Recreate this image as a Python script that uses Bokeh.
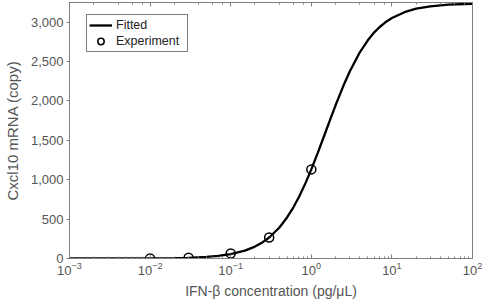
from bokeh.plotting import figure
from bokeh.models import (Range1d, NumeralTickFormatter, LogAxis, CustomJSTickFormatter,
                          FixedTicker, Legend, LegendItem, ColumnDataSource)
from bokeh.embed import file_html
from bokeh.resources import INLINE

# Fitted curve
fit_x = [0.001, 0.003, 0.01, 0.02, 0.03, 0.05, 0.07, 0.1, 0.15, 0.2, 0.25, 0.3,
         0.4, 0.5, 0.6, 0.7, 0.85, 1.0, 1.2, 1.5, 1.75, 2.0, 2.5, 3.0, 4.0, 5.0,
         6.0, 7.0, 8.5, 10.0, 15.0, 20.0, 30.0, 50.0, 100.0]
fit_y = [0, 0.3, 2, 5, 9, 20, 33, 56, 100, 151, 207, 267,
         391, 521, 650, 777, 960, 1131, 1337, 1603, 1788, 1945, 2192, 2375, 2618, 2767,
         2868, 2936, 3006, 3054, 3135, 3171, 3202, 3222, 3234]

# Experimental points
exp_x = [0.01, 0.03, 0.1, 0.3, 1.0]
exp_y = [0, 10, 64, 267, 1131]

y_ticks = [0, 500, 1000, 1500, 2000, 2500, 3000]
x_title = "IFN-β concentration (pg/μL)"
y_title = "Cxcl10 mRNA (copy)"

FONT = "Liberation Sans"
GRAY = "#808080"
TXT = "#555555"

p = figure(width=484, height=307, x_axis_type="log",
           x_range=Range1d(1e-3, 1e2), y_range=Range1d(0, 3250),
           output_backend="svg", toolbar_location=None,
           min_border_left=66, min_border_right=12, min_border_top=2,
           min_border_bottom=49)
p.background_fill_color = "white"
p.border_fill_color = "white"
p.outline_line_color = GRAY
p.outline_line_width = 1
p.grid.visible = False

src_fit = ColumnDataSource(dict(x=fit_x, y=fit_y))
src_exp = ColumnDataSource(dict(x=exp_x, y=exp_y))
r_fit = p.line("x", "y", source=src_fit, line_color="black", line_width=2.3)
r_exp = p.scatter("x", "y", source=src_exp, size=9, marker="circle",
                  fill_color=None, line_color="black", line_width=1.5)

xa = p.xaxis[0]
ya = p.yaxis[0]
ya.ticker = FixedTicker(ticks=y_ticks)
ya.formatter = NumeralTickFormatter(format="0,0")
for ax in (xa, ya):
    ax.axis_line_color = GRAY
    ax.major_tick_line_color = GRAY
    ax.minor_tick_line_color = GRAY
    ax.major_label_text_font = FONT
    ax.major_label_text_font_size = "13px"
    ax.major_label_text_color = TXT
    ax.axis_label_text_font = FONT
    ax.axis_label_text_font_size = "14px"
    ax.axis_label_text_color = TXT
    ax.axis_label_text_font_style = "normal"
    ax.major_tick_in = 4
    ax.major_tick_out = 0
    ax.minor_tick_in = 2
    ax.minor_tick_out = 0
ya.minor_tick_line_color = None
ya.major_tick_in = 0
ya.major_tick_out = 3
ya.axis_label = y_title
ya.axis_label_text_font_size = "15px"
xa.axis_label = x_title
xa.major_label_standoff = 3
xa.axis_label_standoff = 5
ya.major_label_standoff = 3
ya.axis_label_standoff = 7

top = LogAxis(axis_line_color=GRAY, major_tick_line_color=GRAY,
              minor_tick_line_color=GRAY, major_tick_in=4, major_tick_out=0,
              minor_tick_in=2, minor_tick_out=0, major_label_standoff=0,
              major_label_text_font_size="0px",
              formatter=CustomJSTickFormatter(code="return ''"))
p.add_layout(top, "above")

legend = Legend(items=[LegendItem(label="Fitted", renderers=[r_fit]),
                       LegendItem(label="Experiment", renderers=[r_exp])],
                location=(17, 206))
legend.label_text_font = FONT
legend.label_text_font_size = "12.5px"
legend.label_text_color = "#222222"
legend.border_line_color = "black"
legend.border_line_width = 1
legend.margin = 0
legend.padding = 2
legend.spacing = 0
legend.glyph_width = 23
legend.glyph_height = 16
legend.label_height = 16
legend.label_width = 69
legend.label_standoff = 4
p.add_layout(legend)

open("out.html", "w").write(file_html(p, INLINE))
